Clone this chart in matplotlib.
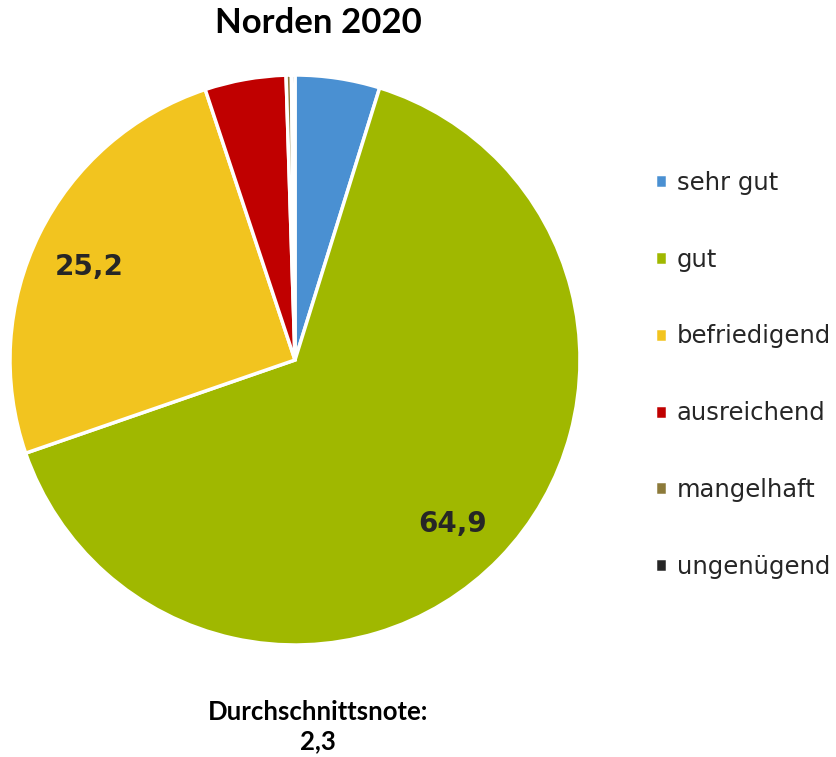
import numpy as np
import matplotlib
matplotlib.use('Agg')
from matplotlib import pyplot as plt

categories = ['sehr gut', 'gut', 'befriedigend', 'ausreichend', 'mangelhaft', 'ungenügend']
values = [4.8, 64.9, 25.2, 4.6, 0.3, 0.2]
colors = ['#4a90d2', '#a0b800', '#f2c41f', '#c00000', '#8c7a3a', '#262626']
shown = ['gut', 'befriedigend']

fig = plt.figure(figsize=(8.36, 7.57), dpi=100)
ax = fig.add_axes([10/836, 112/757, 570/836, 570/757])

wedges, texts = ax.pie(values, colors=colors, startangle=90, counterclock=False,
  wedgeprops=dict(edgecolor='white', linewidth=2.5), radius=1.0)

# labels for the two large slices
total = sum(values)
ang = 90.0
for c, v in zip(categories, values):
  a1 = ang - v / total * 360
  mid = np.deg2rad((ang + a1) / 2)
  if c in shown:
    ax.text(0.79*np.cos(mid) - 0.015, 0.79*np.sin(mid) - 0.025, ('%.1f' % v).replace('.', ','),
      ha='center', va='center', fontsize=20, fontweight='bold', color='#262626',
      family='DejaVu Sans')
  ang = a1
ax.set_xlim(-1, 1); ax.set_ylim(-1, 1)
ax.set_aspect('equal')

leg = fig.legend(wedges, categories, loc='upper left', bbox_to_anchor=(655/836, 1-171/757),
  frameon=False, handlelength=0.5, handleheight=0.5, handletextpad=0.4,
  labelspacing=2.17, borderaxespad=0, borderpad=0,
  prop={'family': 'DejaVu Sans', 'size': 17.5})
for t in leg.get_texts():
  t.set_color('#262626')

fig.text(318/836, 1-23/757, 'Norden 2020', ha='center', va='center', fontsize=25,
  fontweight='bold', family='Lato', color='black')
fig.text(318/836, 1-727/757, 'Durchschnittsnote:\n2,3', ha='center', va='center', fontsize=18.5,
  fontweight='bold', family='Lato', color='black', linespacing=1.25)

plt.savefig('out.png', dpi=100)
